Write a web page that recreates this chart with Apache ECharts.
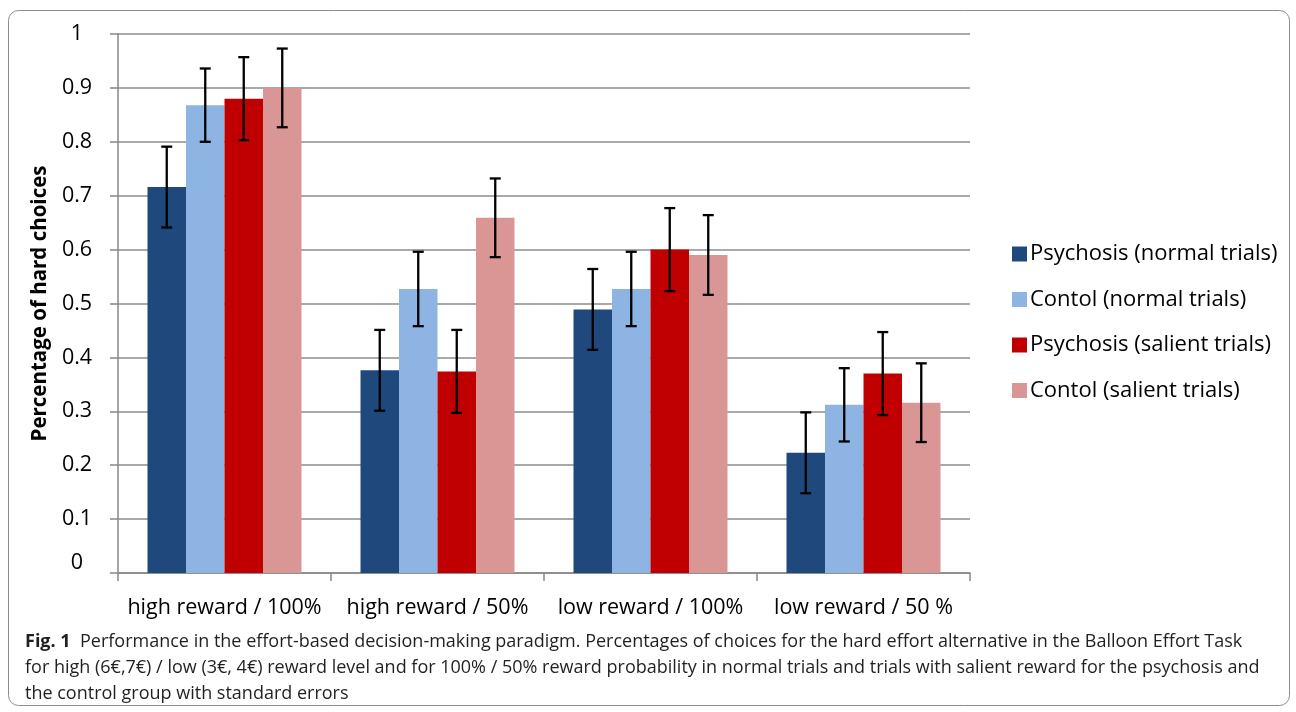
<!DOCTYPE html>
<html>
<head>
<meta charset="utf-8">
<script src="https://cdn.jsdelivr.net/npm/echarts@6/dist/echarts.min.js"></script>
<style>
  html, body { margin: 0; padding: 0; background: #fff; }
  #chart { width: 1296px; height: 712px; }
</style>
</head>
<body>
<div id="chart"></div>
<script>
// categories and series
const categories = ['high reward / 100%', 'high reward / 50%', 'low reward / 100%', 'low reward / 50 %'];
const seriesNames = [
  'Psychosis (normal trials)',
  'Contol (normal trials)',
  'Psychosis (salient trials)',
  'Contol (salient trials)'
];
const psychosisNormal = [0.716, 0.376, 0.489, 0.223];
const controlNormal = [0.868, 0.527, 0.527, 0.312];
const psychosisSalient = [0.880, 0.374, 0.600, 0.370];
const controlSalient = [0.900, 0.659, 0.590, 0.316];
// standard errors (half the error bar length)
const sePsychosisNormal = [0.075, 0.075, 0.075, 0.075];
const seControlNormal = [0.068, 0.069, 0.069, 0.068];
const sePsychosisSalient = [0.077, 0.077, 0.077, 0.077];
const seControlSalient = [0.073, 0.073, 0.074, 0.073];
const yTicks = [0, 0.1, 0.2, 0.3, 0.4, 0.5, 0.6, 0.7, 0.8, 0.9, 1];

const values = [psychosisNormal, controlNormal, psychosisSalient, controlSalient];
const errors = [sePsychosisNormal, seControlNormal, sePsychosisSalient, seControlSalient];
const colors = ['#1f497d', '#8eb4e3', '#c00000', '#d99694'];

const gapRatio = 0.277;
const font = 'Open Sans';

const chart = echarts.init(document.getElementById('chart'));

const barSeries = values.map((v, i) => ({
  name: seriesNames[i],
  type: 'bar',
  data: v,
  barGap: '0%',
  barCategoryGap: (gapRatio * 100) + '%',
  itemStyle: { color: colors[i] },
  silent: true
}));

const errorSeries = values.map((v, i) => ({
  type: 'custom',
  silent: true,
  z: 10,
  data: v.map((val, k) => [k, val - errors[i][k], val + errors[i][k]]),
  renderItem: (params, api) => {
    const band = api.size([1, 0])[0];
    const barW = band * (1 - gapRatio) / 4;
    const dx = (i - 1.5) * barW;
    const lo = api.coord([api.value(0), api.value(1)]);
    const hi = api.coord([api.value(0), api.value(2)]);
    const x = lo[0] + dx;
    const cap = 5.5;
    const style = { stroke: '#000', lineWidth: 2.3 };
    return {
      type: 'group',
      children: [
        { type: 'line', shape: { x1: x, y1: lo[1], x2: x, y2: hi[1] }, style },
        { type: 'line', shape: { x1: x - cap, y1: lo[1], x2: x + cap, y2: lo[1] }, style },
        { type: 'line', shape: { x1: x - cap, y1: hi[1], x2: x + cap, y2: hi[1] }, style }
      ]
    };
  }
}));

chart.setOption({
  animation: false,
  textStyle: { fontFamily: font },
  title: {
    left: 20,
    top: 624,
    text: '{b|Fig. 1}  Performance in the effort-based decision-making paradigm. Percentages of choices for the hard effort alternative in the Balloon Effort Task\nfor high (6€,7€) / low (3€, 4€) reward level and for 100% / 50% reward probability in normal trials and trials with salient reward for the psychosis and\nthe control group with standard errors',
    textStyle: {
      fontFamily: font,
      fontSize: 18,
      fontWeight: 'normal',
      color: '#231f20',
      lineHeight: 26,
      rich: {
        b: { fontFamily: font, fontSize: 18, fontWeight: 'bold', color: '#231f20', lineHeight: 26 }
      }
    }
  },
  graphic: [{
    type: 'rect',
    shape: { x: 8.5, y: 10.5, width: 1281, height: 695, r: 10 },
    style: { fill: 'none', stroke: '#8c8c8c', lineWidth: 1 },
    silent: true
  }],
  legend: {
    orient: 'vertical',
    left: 1007,
    top: 238,
    itemGap: 23.5,
    itemWidth: 15,
    itemHeight: 15,
    icon: 'rect',
    data: seriesNames,
    textStyle: { fontFamily: font, fontSize: 22, color: '#000', padding: [0, 0, 0, -2] }
  },
  grid: { left: 118, right: 326, top: 34, bottom: 139 },
  xAxis: {
    type: 'category',
    data: categories,
    axisLine: { lineStyle: { color: '#888', width: 1.5 } },
    axisTick: { show: true, length: 8, lineStyle: { color: '#888', width: 1.5 } },
    axisLabel: { fontFamily: font, fontSize: 21.5, color: '#000', margin: 24, interval: 0 }
  },
  yAxis: {
    type: 'value',
    min: 0,
    max: 1,
    interval: 0.1,
    name: 'Percentage of hard choices',
    nameLocation: 'middle',
    nameGap: 67,
    nameTextStyle: { fontFamily: font, fontSize: 20.5, fontWeight: 'bold', color: '#000' },
    axisLine: { show: true, lineStyle: { color: '#888', width: 1.5 } },
    axisTick: { show: true, length: 8, lineStyle: { color: '#888', width: 1.5 } },
    axisLabel: {
      fontFamily: font, fontSize: 21.5, color: '#000', margin: 41, align: 'center',
      formatter: v => {
        const t = yTicks.find(y => Math.abs(y - v) < 1e-6);
        if (t === 0) return '{z|0}';
        return String(t !== undefined ? t : v);
      },
      rich: {
        z: { fontFamily: font, fontSize: 21.5, color: '#000', padding: [0, 0, 20, 0] }
      }
    },
    splitLine: { lineStyle: { color: '#8c8c8c', width: 1.5 } }
  },
  series: [...barSeries, ...errorSeries]
});
</script>
</body>
</html>
